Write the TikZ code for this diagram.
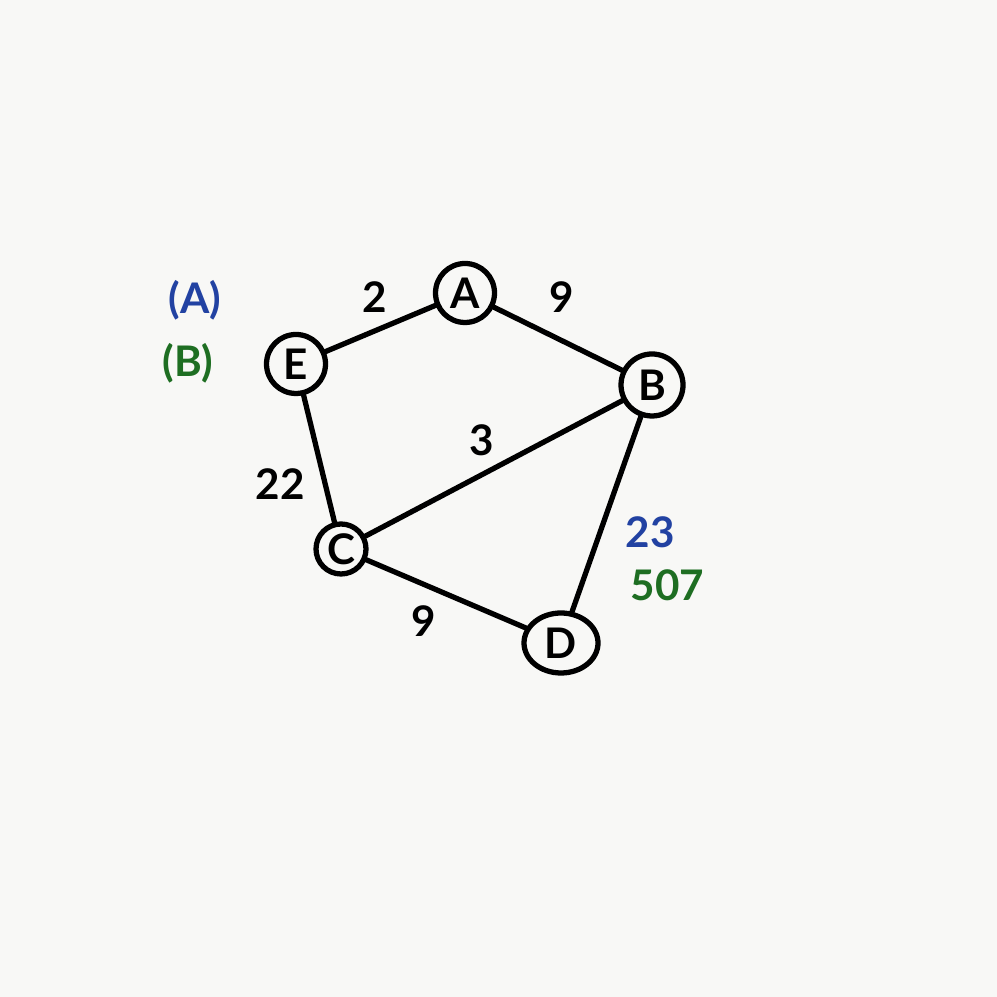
\documentclass[tikz,border=0pt]{standalone}
\usepackage{fontspec}
\setmainfont{Lato}
\usetikzlibrary{positioning,backgrounds,shapes.geometric}
\definecolor{paper}{HTML}{F8F8F6}
\definecolor{inkblue}{HTML}{2242A2}
\definecolor{inkgreen}{HTML}{1E6E22}
\tikzset{
  % graf
  gv/.style={circle,draw=black,line width=1.5pt,inner sep=0pt,
             minimum size=5.9mm,font=\large\bfseries},
  ge/.style={draw=black,line width=1.5pt,line cap=round},
  gw/.style={font=\large\bfseries,inner sep=1pt},
  leg/.style={font=\large\bfseries,inner sep=1pt},
}
\begin{document}
\begin{tikzpicture}
\useasboundingbox (0,0) rectangle (9.97,9.97);
\begin{scope}[on background layer]
  \fill[paper] (0,0) rectangle (9.97,9.97);
\end{scope}
  \node[gv] (a) at (4.65,7.04) {A};
  \node[gv] (e) at (2.96,6.33) {E};
  \node[gv,minimum size=6.2mm] (b) at (6.52,6.12) {B};
  \node[gv,minimum size=5mm] (c) at (3.41,4.48) {C};
  \node[gv,ellipse,minimum width=7.4mm,minimum height=6mm] (d) at (5.61,3.54) {D};
  \draw[ge] (e) -- node[gw,above=1mm,xshift=-0.6mm] {2} (a);
  \draw[ge] (a) -- node[gw,above=2mm,xshift=0.4mm] {9} (b);
  \draw[ge] (c) -- node[gw,above=0.6mm,xshift=-1.2mm] {3} (b);
  \draw[ge] (e) -- node[gw,below left=0.4mm and 0.8mm] {22} (c);
  \draw[ge] (c) -- node[gw,below left=0.6mm and 0.4mm] {9} (d);
  \draw[ge] (b) -- node[gw,pos=0.6,right=2mm,yshift=-2.5mm,align=left]
    {\textcolor{inkblue}{23}\\[1pt]\hspace*{0.5mm}\textcolor{inkgreen}{507}} (d);
  % legende
  \node[leg,text=inkblue] (legA) at (1.95,6.97) {(A)};
  \node[leg,text=inkgreen,below=1.5mm of legA,xshift=-0.7mm] (legB) {(B)};
\end{tikzpicture}
\end{document}
